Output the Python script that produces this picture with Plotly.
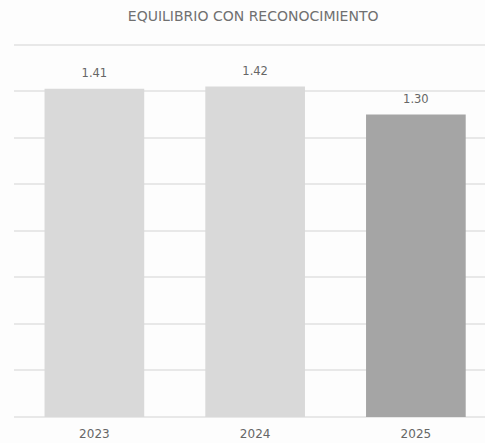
import plotly.graph_objects as go

years = ["2023", "2024", "2025"]
values = [1.41, 1.42, 1.30]
bar_colors = ["#d9d9d9", "#d9d9d9", "#a5a5a5"]
value_labels = ["1.41", "1.42", "1.30"]

fig = go.Figure()
fig.add_trace(go.Bar(
    x=years, y=values, marker_color=bar_colors, marker_line_width=0,
    width=0.62, cliponaxis=False, hoverinfo="skip",
))
fig.add_trace(go.Scatter(
    x=years, y=values, mode="markers+text", text=value_labels,
    textposition="top center",
    marker=dict(size=12, color="rgba(0,0,0,0)"),
    textfont=dict(size=11.5, color="#666666", family="DejaVu Sans"),
    cliponaxis=False, hoverinfo="skip",
))

fig.update_layout(
    width=485, height=443,
    margin=dict(l=14, r=0, t=40, b=26),
    paper_bgcolor="#fdfdfd", plot_bgcolor="#fdfdfd",
    title=dict(text="EQUILIBRIO CON RECONOCIMIENTO", x=0.522, xanchor="center",
               y=0.963, yanchor="middle",
               font=dict(size=14, color="#707070", family="DejaVu Sans")),
    showlegend=False,
    font=dict(family="DejaVu Sans", color="#666666"),
)
fig.update_xaxes(range=[-0.5, 2.43], showgrid=False, showline=False,
                 tickfont=dict(size=12, color="#666666"), ticks="",
                 ticklabelstandoff=8)
fig.update_yaxes(range=[0, 1.62], dtick=0.2, showticklabels=False,
                 gridcolor="#e8e8e8", gridwidth=1.5, zeroline=True,
                 zerolinecolor="#e8e8e8", zerolinewidth=1.5)

fig.write_html("out.html", config={"displayModeBar": False},
               post_script="document.body.style.margin='0';")
